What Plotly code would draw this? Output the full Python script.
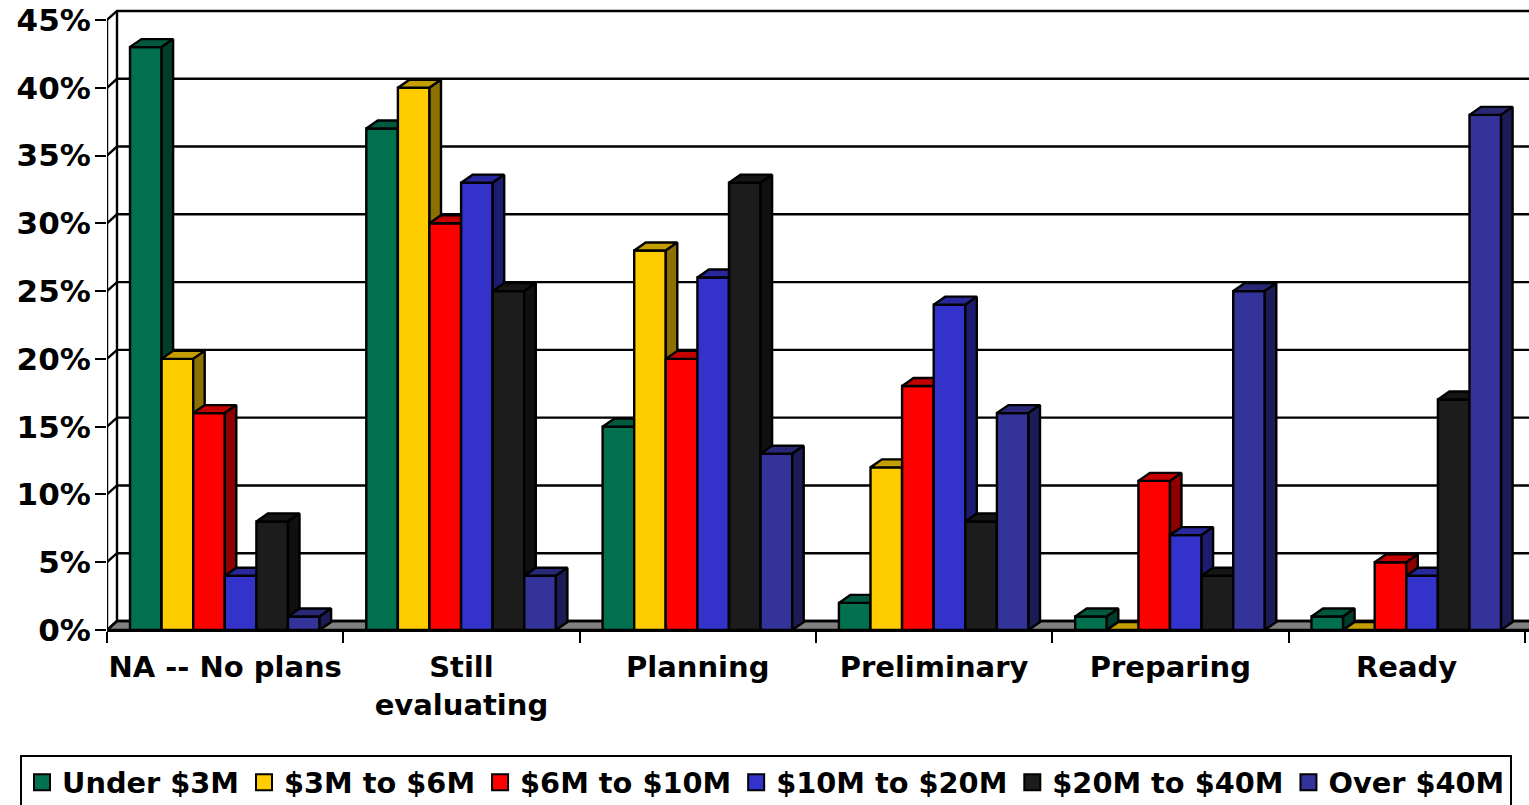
import plotly.graph_objects as go

categories = ["NA -- No plans", "Still<br>evaluating", "Planning", "Preliminary", "Preparing", "Ready"]
series_names = ["Under $3M", "$3M to $6M", "$6M to $10M", "$10M to $20M", "$20M to $40M", "Over $40M"]
under_3m = [43, 37, 15, 2, 1, 1]
m3_to_6 = [20, 40, 28, 12, 0, 0]
m6_to_10 = [16, 30, 20, 18, 11, 5]
m10_to_20 = [4, 33, 26, 24, 7, 4]
m20_to_40 = [8, 25, 33, 8, 4, 17]
over_40m = [1, 4, 13, 16, 25, 38]
series_values = [under_3m, m3_to_6, m6_to_10, m10_to_20, m20_to_40, over_40m]
y_ticks = [0, 5, 10, 15, 20, 25, 30, 35, 40, 45]

front_colors = ["#00704F", "#FFCC00", "#FF0000", "#3333CC", "#1C1C1C", "#333399"]
top_colors = ["#005A40", "#C49D00", "#C40000", "#28289C", "#151515", "#282876"]
side_colors = ["#003D2B", "#8C7000", "#8C0000", "#1C1C70", "#101010", "#1C1C54"]

W, H = 1529, 805
LEFT, ZERO, TOP = 107, 630, 9
CAT_PX = 236.3
PX_PER_PCT = 13.556
xmax = (W - LEFT) / CAT_PX
ymax = (ZERO - TOP) / PX_PER_PCT
bar_w = 31.6 / CAT_PX
bar_off = 23.0 / CAT_PX
depth_x = 11.5 / CAT_PX
depth_y = 8 / PX_PER_PCT
wall_x = 10 / CAT_PX
wall_y = 9 / PX_PER_PCT
LINE = dict(color="black", width=2.4)

fig = go.Figure()

# floor
fig.add_trace(go.Scatter(x=[0, wall_x, xmax + wall_x, xmax, 0], y=[0, wall_y, wall_y, 0, 0], mode="lines",
                         fill="toself", fillcolor="#808080", line=LINE, showlegend=False, hoverinfo="skip"))
# back wall gridlines and left wall
for t in y_ticks:
    fig.add_trace(go.Scatter(x=[0, wall_x, xmax + wall_x], y=[t, t + wall_y, t + wall_y], mode="lines",
                             line=LINE, showlegend=False, hoverinfo="skip"))
fig.add_trace(go.Scatter(x=[wall_x, wall_x], y=[wall_y, y_ticks[-1] + wall_y], mode="lines", line=LINE,
                         showlegend=False, hoverinfo="skip"))
fig.add_trace(go.Scatter(x=[0, 0], y=[0, y_ticks[-1]], mode="lines", line=LINE, showlegend=False, hoverinfo="skip"))

layout_axes = {}
for i, (name, vals) in enumerate(zip(series_names, series_values)):
    n = i + 2
    xa, ya = f"x{n}", f"y{n}"
    layout_axes[f"xaxis{n}"] = dict(overlaying="x", range=[0, xmax], visible=False, fixedrange=True)
    layout_axes[f"yaxis{n}"] = dict(overlaying="y", range=[0, ymax], visible=False, fixedrange=True)
    xc = [k + bar_off + bar_w * (i + 0.5) for k in range(len(vals))]
    fig.add_trace(go.Bar(x=xc, y=vals, width=bar_w, marker=dict(color=front_colors[i], line=LINE),
                         xaxis=xa, yaxis=ya, showlegend=False, name=name))
    for c, v in zip(xc, vals):
        xl, xr = c - bar_w / 2, c + bar_w / 2
        fig.add_trace(go.Scatter(x=[xl, xl + depth_x, xr + depth_x, xr, xl], y=[v, v + depth_y, v + depth_y, v, v],
                                 mode="lines", fill="toself", fillcolor=top_colors[i], line=LINE,
                                 xaxis=xa, yaxis=ya, showlegend=False, hoverinfo="skip"))
        if v > 0:
            fig.add_trace(go.Scatter(x=[xr, xr + depth_x, xr + depth_x, xr, xr],
                                     y=[v, v + depth_y, depth_y, 0, v], mode="lines", fill="toself",
                                     fillcolor=side_colors[i], line=LINE, xaxis=xa, yaxis=ya,
                                     showlegend=False, hoverinfo="skip"))
    # legend entry with the larger square swatch of the reference
    fig.add_trace(go.Scatter(x=[None], y=[None], mode="markers", name=name,
                             marker=dict(symbol="square", size=16, color=front_colors[i],
                                         line=dict(color="black", width=2))))

font = dict(family="DejaVu Sans", size=29, color="black", weight="bold")
legend_font = dict(family="DejaVu Sans", size=28.8, color="black", weight="bold")
fig.update_layout(
    width=W, height=H, paper_bgcolor="white", plot_bgcolor="white", showlegend=True,
    margin=dict(l=LEFT, r=0, t=TOP, b=H - ZERO, pad=0, autoexpand=False),
    xaxis=dict(range=[0, xmax], fixedrange=True, showgrid=False, zeroline=False,
               tickmode="array", tickvals=[k + 0.5 for k in range(len(categories))], ticktext=categories,
               ticks="", tickfont=font, tickangle=0, ticklabelstandoff=10,
               showline=True, linecolor="black", linewidth=2.4,
               minor=dict(tickmode="array", tickvals=list(range(len(categories) + 1)), ticks="outside",
                          ticklen=11, tickwidth=2.4, tickcolor="black", showgrid=False)),
    yaxis=dict(range=[0, ymax], fixedrange=True, showgrid=False, zeroline=False,
               tickmode="array", tickvals=y_ticks, ticktext=[f"{t}%" for t in y_ticks],
               ticks="outside", ticklen=11, tickwidth=2.4, tickcolor="black", ticklabelstandoff=-2,
               tickfont=dict(family="DejaVu Sans", size=31, color="black", weight="bold"), showline=False),
    legend=dict(orientation="h", x=(20 - LEFT) / (W - LEFT), xanchor="left",
                y=(ZERO - 755) / (ZERO - TOP), yanchor="top", font=legend_font,
                bgcolor="white", bordercolor="black", borderwidth=2, itemclick=False, itemdoubleclick=False),
    **layout_axes,
)
fig.write_html("out.html", config=dict(displayModeBar=False),
               post_script="document.body.style.margin='0';document.documentElement.style.overflow='hidden';")
